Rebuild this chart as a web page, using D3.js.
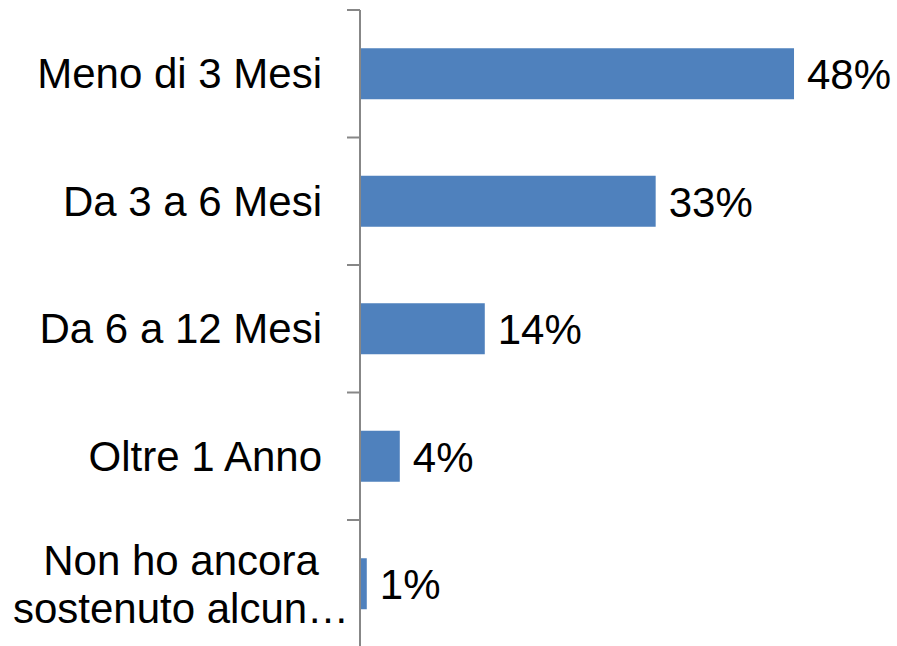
<!DOCTYPE html>
<html>
<head>
<meta charset="utf-8">
<script src="https://cdn.jsdelivr.net/npm/d3@7"></script>
<style>
  html, body { margin: 0; padding: 0; background: #fff; }
  svg { display: block; }
</style>
</head>
<body>
<svg id="chart" width="897" height="646"></svg>
<script>
const categories = ["Meno di 3 Mesi", "Da 3 a 6 Mesi", "Da 6 a 12 Mesi", "Oltre 1 Anno", "Non ho ancora\nsostenuto alcun…"];
const values = [48.0, 32.7, 13.8, 4.4, 0.75];
const valueLabels = ["48%", "33%", "14%", "4%", "1%"];

const svg = d3.select("#chart");
const font = "'Liberation Sans', Arial, sans-serif";
const fontSize = 42;

const x = d3.scaleLinear().domain([0, 60]).range([360, 360 + 60 * 9.042]);
const y = d3.scaleBand().domain(categories).range([10, 647.5]).paddingInner(0.6).paddingOuter(0.3);
const step = y.step();

// bars
svg.append("g").selectAll("rect")
  .data(categories)
  .join("rect")
  .attr("x", x(0))
  .attr("y", d => y(d))
  .attr("width", (d, i) => x(values[i]) - x(0))
  .attr("height", y.bandwidth())
  .attr("fill", "#4F81BD");

// axis line & ticks (category boundaries)
const axis = svg.append("g").attr("stroke", "#878787").attr("stroke-width", 2);
axis.append("line")
  .attr("x1", x(0)).attr("x2", x(0))
  .attr("y1", 10).attr("y2", 646);
const boundaries = d3.range(categories.length + 1).map(i => 10 + i * step);
axis.selectAll("line.tick")
  .data(boundaries)
  .join("line")
  .attr("class", "tick")
  .attr("x1", x(0) - 13).attr("x2", x(0))
  .attr("y1", d => d).attr("y2", d => d);

// category labels
const lab = svg.append("g")
  .attr("font-family", font)
  .attr("font-size", fontSize)
  .attr("fill", "#000");
categories.forEach((c, i) => {
  const cy = y(c) + y.bandwidth() / 2;
  const lines = c.split("\n");
  if (lines.length === 1) {
    lab.append("text")
      .attr("x", 322).attr("y", cy)
      .attr("dy", "0.35em")
      .attr("text-anchor", "end")
      .text(c);
  } else {
    const t = lab.append("text")
      .attr("x", 181).attr("y", cy)
      .attr("text-anchor", "middle");
    t.append("tspan").attr("x", 181).attr("dy", -8.5).text(lines[0]);
    t.append("tspan").attr("x", 181).attr("dy", 47.3).text(lines[1]);
  }
});

// value labels
svg.append("g")
  .attr("font-family", font)
  .attr("font-size", fontSize)
  .attr("fill", "#000")
  .selectAll("text")
  .data(categories)
  .join("text")
  .attr("x", (d, i) => x(values[i]) + 13)
  .attr("y", d => y(d) + y.bandwidth() / 2)
  .attr("dy", "0.37em")
  .text((d, i) => valueLabels[i]);
</script>
</body>
</html>
